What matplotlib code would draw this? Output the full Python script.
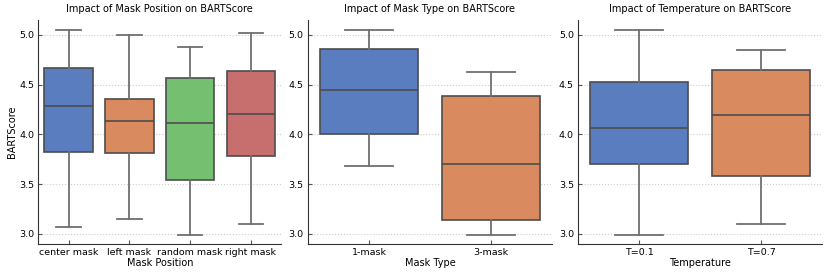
import matplotlib.pyplot as plt
import seaborn as sns

# box stats: low whisker, q1, median, q3, high whisker
pos_labels = ["center mask", "left mask", "random mask", "right mask"]
pos_low = [3.07, 3.15, 2.99, 3.10]
pos_q1 = [3.82, 3.81, 3.54, 3.78]
pos_med = [4.28, 4.13, 4.11, 4.20]
pos_q3 = [4.67, 4.36, 4.57, 4.64]
pos_high = [5.05, 5.00, 4.88, 5.02]

type_labels = ["1-mask", "3-mask"]
type_low = [3.68, 2.99]
type_q1 = [4.00, 3.14]
type_med = [4.45, 3.70]
type_q3 = [4.86, 4.39]
type_high = [5.05, 4.63]

temp_labels = ["T=0.1", "T=0.7"]
temp_low = [2.99, 3.10]
temp_q1 = [3.70, 3.58]
temp_med = [4.06, 4.19]
temp_q3 = [4.53, 4.65]
temp_high = [5.05, 4.85]

colors = [sns.desaturate(c, 0.75) for c in sns.color_palette("muted")]
plt.rcParams['font.family'] = ['DejaVu Sans']

fig = plt.figure(figsize=(8.3, 2.77), dpi=100)
rects = [[0.046, 0.12, 0.293, 0.808],
         [0.371, 0.12, 0.294, 0.808],
         [0.6964, 0.12, 0.294, 0.808]]

panels = [
    (pos_labels, pos_low, pos_q1, pos_med, pos_q3, pos_high,
     "Impact of Mask Position on BARTScore", "Mask Position"),
    (type_labels, type_low, type_q1, type_med, type_q3, type_high,
     "Impact of Mask Type on BARTScore", "Mask Type"),
    (temp_labels, temp_low, temp_q1, temp_med, temp_q3, temp_high,
     "Impact of Temperature on BARTScore", "Temperature"),
]

for k, (labels, lo, q1, med, q3, hi, title, xlabel) in enumerate(panels):
    ax = fig.add_axes(rects[k])
    stats = [dict(label=l, whislo=a, q1=b, med=c, q3=d, whishi=e, fliers=[])
             for l, a, b, c, d, e in zip(labels, lo, q1, med, q3, hi)]
    bp = ax.bxp(stats, positions=range(len(labels)), widths=0.8,
                patch_artist=True, showfliers=False,
                boxprops=dict(edgecolor='#4d4d4d', linewidth=1.2),
                medianprops=dict(color='#4d4d4d', linewidth=1.2),
                whiskerprops=dict(color='#707070', linewidth=1.3),
                capprops=dict(color='#707070', linewidth=1.3))
    for i, box in enumerate(bp['boxes']):
        box.set_facecolor(colors[i])
    ax.set_xlim(-0.5, len(labels) - 0.5)
    ax.set_ylim(2.9, 5.15)
    ax.set_yticks([3.0, 3.5, 4.0, 4.5, 5.0])
    ax.yaxis.grid(True, linestyle=':', color='#cccccc', linewidth=0.8)
    ax.set_axisbelow(True)
    for s in ['top', 'right']:
        ax.spines[s].set_visible(False)
    for s in ['left', 'bottom']:
        ax.spines[s].set_color('#333333')
    ax.tick_params(labelsize=6.8, length=3, direction='in', color='#555555',
                   pad=3)
    ax.set_title(title, fontsize=7)
    ax.set_xlabel(xlabel, fontsize=7, labelpad=1)
    if k == 0:
        ax.set_ylabel("BARTScore", fontsize=7, labelpad=1)

fig.savefig("out.png", dpi=100)
